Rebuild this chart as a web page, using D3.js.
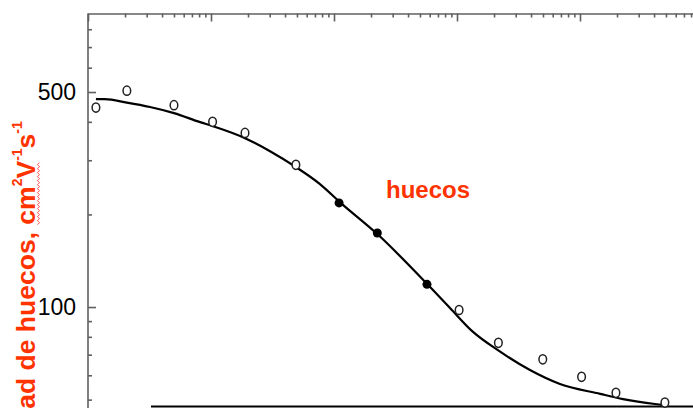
<!DOCTYPE html>
<html>
<head>
<meta charset="utf-8">
<script src="https://cdn.jsdelivr.net/npm/d3@7"></script>
<style>
  html, body { margin: 0; padding: 0; background: #fff; }
  svg { display: block; font-family: "Liberation Sans", Arial, sans-serif; }
</style>
</head>
<body>
<div class="canvas"></div>
<script>
// sizes
const w = 693;
const h = 408;
const plot = { left: 88, top: 13.5, bottom: 406, right: 826 };

// measured points (open circles), doping cm^-3 and mobility cm2/Vs
const openN = [1.16e14, 2.07e14, 5.0e14, 1.03e15, 1.89e15, 4.9e15, 1.04e17, 2.17e17, 4.98e17, 1.03e18, 1.96e18, 4.9e18];
const openMu = [445, 505, 453, 400, 368, 290, 97.8, 76.5, 67.6, 59.3, 52.6, 48.9];

// filled circles
const filledN = [1.1e16, 2.25e16, 5.7e16];
const filledMu = [218, 174, 118.5];

// fitted curve
const curveN = [1.16e14, 1.37e14, 2.07e14, 3.19e14, 5.0e14, 8.15e14, 1.04e15, 1.89e15, 3.02e15, 4.91e15, 7.69e15, 1.12e16,
  2.24e16, 5.7e16, 8.77e16, 1.35e17, 2.15e17, 3.92e17, 6.87e17, 1.46e18, 2.24e18, 4.07e18, 4.91e18];
const curveMu = [474, 474, 462, 447, 427, 399, 387, 354, 321, 285, 251, 219,
  173, 119, 99.3, 83, 72.4, 62.4, 56.2, 52.2, 50.2, 48.4, 48];

// tick values
const xDecades = [1e14, 1e15, 1e16, 1e17, 1e18, 1e19];
const yMajor = [100, 500];
const yMinor = [50, 60, 70, 80, 90, 200, 300, 400, 600, 700, 800];

const seriesLabel = "huecos";
const yLabel = ["Movilidad de huecos, cm", "2", "V", "-1", "s", "-1"];

const red = "#ff3300";
const axisColor = "#606060";

const svg = d3.select(".canvas").append("svg").attr("width", w).attr("height", h);

const x = d3.scaleLog().domain([1e14, 1e20]).range([plot.left, plot.right]);
const y = d3.scaleLog().domain([47.67, 900]).range([plot.bottom, plot.top]);

// minor x ticks
const xMinor = [];
xDecades.forEach((d) => { for (let k = 2; k <= 9; k++) xMinor.push(d * k); });

// top axis
const topAxis = svg.append("g").attr("transform", `translate(0, ${plot.top})`);
topAxis.call(d3.axisTop(x).tickValues(xDecades).tickSize(-8).tickSizeOuter(0).tickFormat(""));
topAxis.append("g").call(d3.axisTop(x).tickValues(xMinor).tickSize(-4).tickSizeOuter(0).tickFormat(""))
  .select(".domain").remove();
topAxis.selectAll("path, line").attr("stroke", axisColor).attr("stroke-width", 1.6);

// left axis
const leftAxis = svg.append("g").attr("transform", `translate(${plot.left}, 0)`);
leftAxis.call(d3.axisLeft(y).tickValues(yMajor).tickSize(-8).tickSizeOuter(0).tickPadding(12).tickFormat(d3.format("d")));
leftAxis.select(".domain").attr("d", `M0,${plot.top}V${h}`);
leftAxis.append("g").call(d3.axisLeft(y).tickValues(yMinor).tickSize(-4).tickSizeOuter(0).tickFormat(""))
  .select(".domain").remove();
leftAxis.selectAll("path, line").attr("stroke", axisColor).attr("stroke-width", 1.6);
leftAxis.selectAll("text").attr("font-size", 23).attr("fill", "#000").attr("font-family", "Liberation Sans, Arial, sans-serif");

// bottom frame line (partly hidden in the original slide)
svg.append("line")
  .attr("x1", 151).attr("x2", w)
  .attr("y1", plot.bottom + 0.5).attr("y2", plot.bottom + 0.5)
  .attr("stroke", "#000").attr("stroke-width", 2);

// fitted curve
const line = d3.line().x((d, i) => x(curveN[i])).y((d) => y(d)).curve(d3.curveMonotoneX);
svg.append("path")
  .attr("d", line(curveMu))
  .attr("fill", "none")
  .attr("stroke", "#000")
  .attr("stroke-width", 2.2);

// open circles
svg.append("g").selectAll("ellipse").data(openMu).join("ellipse")
  .attr("cx", (d, i) => x(openN[i]))
  .attr("cy", (d) => y(d))
  .attr("rx", 3.8).attr("ry", 4.6)
  .attr("fill", "#fff")
  .attr("stroke", "#222")
  .attr("stroke-width", 1.5);

// filled circles
svg.append("g").selectAll("circle").data(filledMu).join("circle")
  .attr("cx", (d, i) => x(filledN[i]))
  .attr("cy", (d) => y(d))
  .attr("r", 4.5)
  .attr("fill", "#000");

// series label
svg.append("text")
  .attr("x", 386).attr("y", 197.5)
  .attr("font-size", 24).attr("font-weight", "bold")
  .attr("fill", red)
  .text(seriesLabel);

// y label, rotated, cut off by the frame
const yl = svg.append("g").attr("transform", "translate(35, 500) rotate(-90)");
const ylText = yl.append("text")
  .attr("font-size", 26.5).attr("font-weight", "bold").attr("fill", red);
yLabel.forEach((s, i) => {
  const sup = i % 2 === 1;
  ylText.append("tspan")
    .attr("font-size", sup ? 14 : 26.5)
    .attr("dy", i === 0 ? 0 : (sup ? -13 : 13))
    .text(s);
});

// spell-check squiggle under "cm2V"
const full = yLabel.join("");
const i0 = full.indexOf("cm");
const i1 = full.indexOf("V");
const a = ylText.node().getExtentOfChar(i0);
const b = ylText.node().getExtentOfChar(i1);
const sx0 = a.x, sx1 = b.x + b.width, sy = 3;
const pts = [];
for (let sxx = sx0, k = 0; sxx <= sx1; sxx += 2, k++) pts.push([sxx, sy + (k % 2 ? 1.5 : -0.5)]);
yl.append("path")
  .attr("d", d3.line()(pts))
  .attr("fill", "none")
  .attr("stroke", "#ff2020")
  .attr("stroke-width", 0.8);
</script>
</body>
</html>
